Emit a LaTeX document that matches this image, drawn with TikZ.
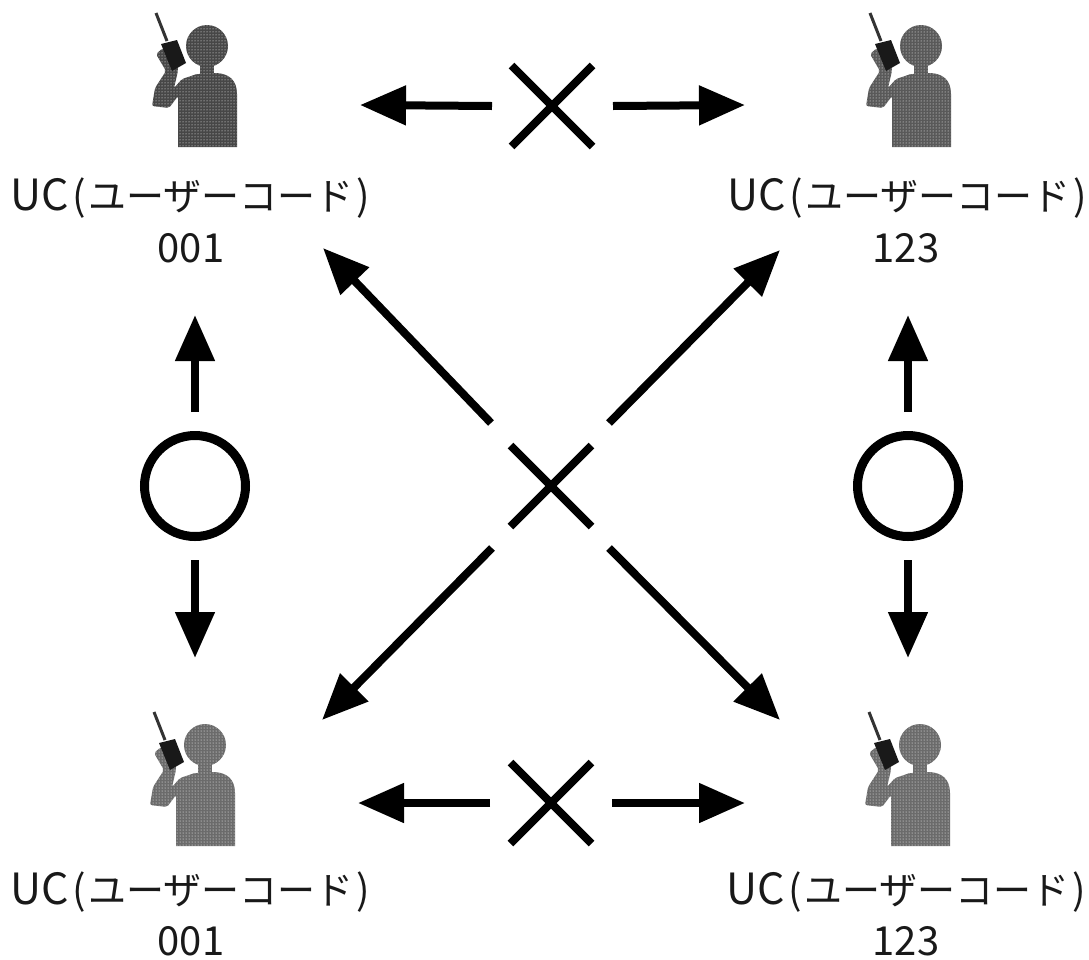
\documentclass[tikz,border=0pt]{standalone}
\usepackage{fontspec}
\setmainfont{Noto Sans CJK JP}
\usetikzlibrary{arrows.meta,shapes.misc,patterns}
\newcommand{\uclabel}{{\fontsize{43pt}{44pt}\selectfont UC}\kern4pt{\fontsize{40pt}{44pt}\selectfont(}\kern2pt{\fontsize{38pt}{44pt}\selectfont ユーザーコード}\kern3pt{\fontsize{40pt}{44pt}\selectfont)}}
\tikzset{
 x=1pt,y=-1pt,
 arr/.style={line width=8pt,-{Triangle[length=46pt,width=38pt]}},
 nope/.style={cross out,draw=black,line width=8pt,minimum size=81pt,inner sep=0pt,outer sep=0pt},
 okay/.style={circle,draw=black,line width=9pt,minimum size=101pt,inner sep=0pt},
 lab/.style={text=black!90,inner sep=0pt},
 num/.style={font=\fontsize{40pt}{44pt}\selectfont,text=black!90,inner sep=0pt},
 halftone/.style={fill=#1,postaction={pattern=dots,pattern color=white}},
 pics/person/.style={code={
  \path[halftone=#1] (0,0) circle (21);
  \path[halftone=#1] (-7,15) rectangle (7,30);
  \path[halftone=#1] (-29,101) -- (-29,50) .. controls (-25,35) and (-15,28) .. (-8,28) -- (10,27)
     .. controls (22,28) and (30,34) .. (30,48) -- (30,101) -- cycle;
  \path[halftone=#1,rounded corners=2pt] (-55,60) -- (-52,42) -- (-41,25) -- (-51,8) -- (-44,2) -- (-30,10)
     -- (-29,25) -- (-33,42) -- (-25,33) -- (-10,28) -- (-10,60) -- (-29,50) -- (-38,62) -- cycle;
  \fill[black!90] (-46,-2) -- (-30,-6) -- (-21,17) -- (-35,25) -- cycle;
  \draw[black!80,line width=3pt] (-51,-33) -- (-40,-5);
 }}
}
\begin{document}
\begin{tikzpicture}
\useasboundingbox (0,0) rectangle (1089,959);
\fill[white] (0,0) rectangle (1089,959);
\pic at (207,46) {person=black!72};
\pic at (921,46) {person=black!65};
\pic at (205,745) {person=black!58};
\pic at (920,745) {person=black!58};
\node[lab] (l1) at (190,198) {\uclabel};
\node[lab] (l2) at (907,198) {\uclabel};
\node[lab] (l3) at (190,892) {\uclabel};
\node[lab] (l4) at (906,892) {\uclabel};
\node[num] (n1) at (191,248) {001};
\node[num] (n2) at (906,248) {123};
\node[num] (n3) at (191,941) {001};
\node[num] (n4) at (906,941) {123};
\node[nope] (xt) at (552,106) {};
\node[nope] (xb) at (551,803) {};
\node[nope] (xc) at (551,486) {};
\node[okay] (ol) at (195,486) {};
\node[okay] (or) at (908,486) {};
\coordinate (a1) at (360,105); \coordinate (a2) at (745,105);
\coordinate (a3) at (358,803); \coordinate (a4) at (745,803);
\coordinate (a5) at (195,315); \coordinate (a6) at (195,658);
\coordinate (a7) at (908,315); \coordinate (a8) at (908,658);
\coordinate (a9) at (323,248); \coordinate (a10) at (780,250);
\coordinate (a11) at (322,720); \coordinate (a12) at (780,720);
\draw[arr] ([xshift=-60pt]xt.center) -- (a1);
\draw[arr] ([xshift=61pt]xt.center) -- (a2);
\draw[arr] ([xshift=-61pt]xb.center) -- (a3);
\draw[arr] ([xshift=61pt]xb.center) -- (a4);
\draw[arr] ([yshift=19pt]ol.north) -- (a5);
\draw[arr] ([yshift=-19pt]ol.south) -- (a6);
\draw[arr] ([yshift=19pt]or.north) -- (a7);
\draw[arr] ([yshift=-19pt]or.south) -- (a8);
\draw[arr] ([shift={(-60,-63)}]xc.center) -- (a9);
\draw[arr] ([shift={(58,-63)}]xc.center) -- (a10);
\draw[arr] ([shift={(-59,62)}]xc.center) -- (a11);
\draw[arr] ([shift={(58,62)}]xc.center) -- (a12);
\end{tikzpicture}
\end{document}
